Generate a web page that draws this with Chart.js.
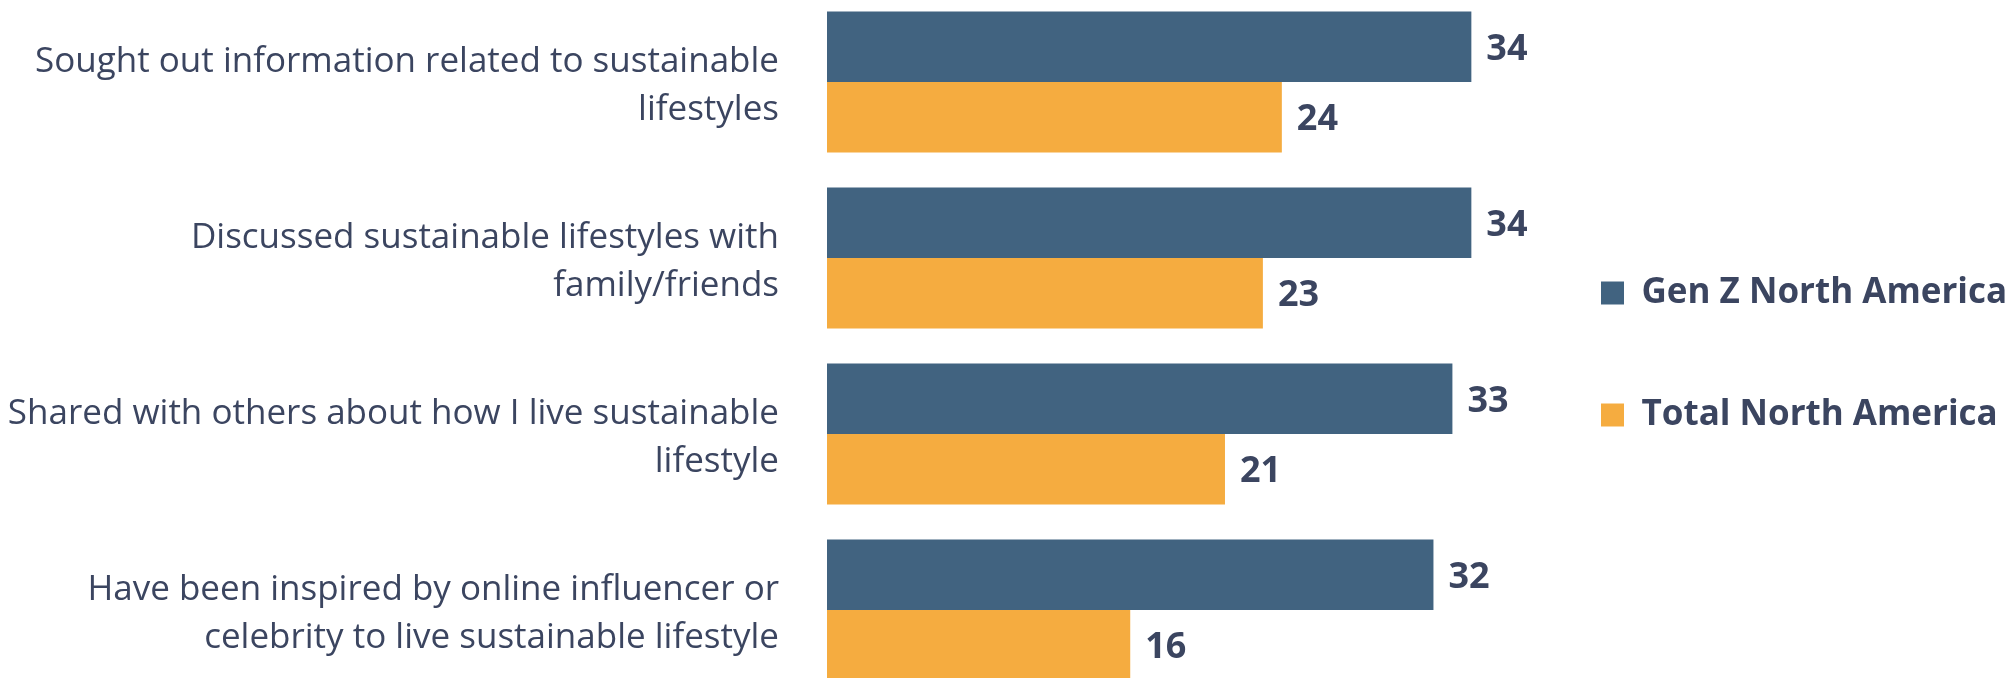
<!DOCTYPE html>
<html>
<head>
<meta charset="utf-8">
<script src="https://cdn.jsdelivr.net/npm/chart.js@4.4.1/dist/chart.umd.min.js"></script>
<style>
  html, body { margin: 0; padding: 0; background: #fff; overflow: hidden; }
  #wrap { position: absolute; left: 0; top: -6px; width: 2008px; height: 704px; }
</style>
</head>
<body>
<div id="wrap"><canvas id="chart"></canvas></div>
<script>
// survey answers, two lines per label
const categories = [
  ["Sought out information related to sustainable", "lifestyles"],
  ["Discussed sustainable lifestyles with", "family/friends"],
  ["Shared with others about how I live sustainable", "lifestyle"],
  ["Have been inspired by online influencer or", "celebrity to live sustainable lifestyle"]
];
const seriesNames = ["Gen Z North America", "Total North America"];
const genZ = [34, 34, 33, 32];
const totalNA = [24, 23, 21, 16];

const BLUE = "#416380";
const ORANGE = "#F5AC40";
const INK = "#3B4560";
const FONT = "'Open Sans', 'Noto Sans', sans-serif";

// prints the value just past the end of each bar
const valueLabels = {
  id: "valueLabels",
  afterDatasetsDraw(chart) {
    const ctx = chart.ctx;
    ctx.save();
    ctx.font = "bold 36px " + FONT;
    ctx.fillStyle = INK;
    ctx.textAlign = "left";
    ctx.textBaseline = "middle";
    chart.data.datasets.forEach((ds, i) => {
      chart.getDatasetMeta(i).data.forEach((bar, j) => {
        ctx.fillText(String(ds.data[j]), bar.x + 15, bar.y + 3);
      });
    });
    ctx.restore();
  }
};

new Chart(document.getElementById("chart").getContext("2d"), {
  type: "bar",
  data: {
    labels: categories,
    datasets: [
      { label: seriesNames[0], data: genZ, backgroundColor: BLUE, borderWidth: 0 },
      { label: seriesNames[1], data: totalNA, backgroundColor: ORANGE, borderWidth: 0 }
    ]
  },
  options: {
    indexAxis: "y",
    responsive: true,
    maintainAspectRatio: false,
    animation: false,
    datasets: { bar: { categoryPercentage: 0.8, barPercentage: 1.0 } },
    layout: { padding: 0 },
    scales: {
      x: { display: false, min: 0, max: 36.25 },
      y: {
        grid: { display: false },
        border: { display: false },
        ticks: {
          color: INK,
          padding: 40,
          labelOffset: 4,
          font: { family: FONT, size: 35, lineHeight: 1.37 }
        },
        afterFit(scale) {
          // fixed label column; the two-line labels fit inside their band
          scale.width = 827;
          scale.paddingTop = 0;
          scale.paddingBottom = 0;
        }
      }
    },
    plugins: {
      legend: {
        position: "right",
        maxWidth: 494,
        title: { display: true, text: "", padding: 0, font: { size: 16, lineHeight: 1 } },
        labels: {
          boxWidth: 23,
          boxHeight: 23,
          padding: 87,
          color: INK,
          font: { family: FONT, size: 35, weight: "bold" }
        }
      },
      tooltip: { enabled: false }
    }
  },
  plugins: [valueLabels]
});
</script>
</body>
</html>
